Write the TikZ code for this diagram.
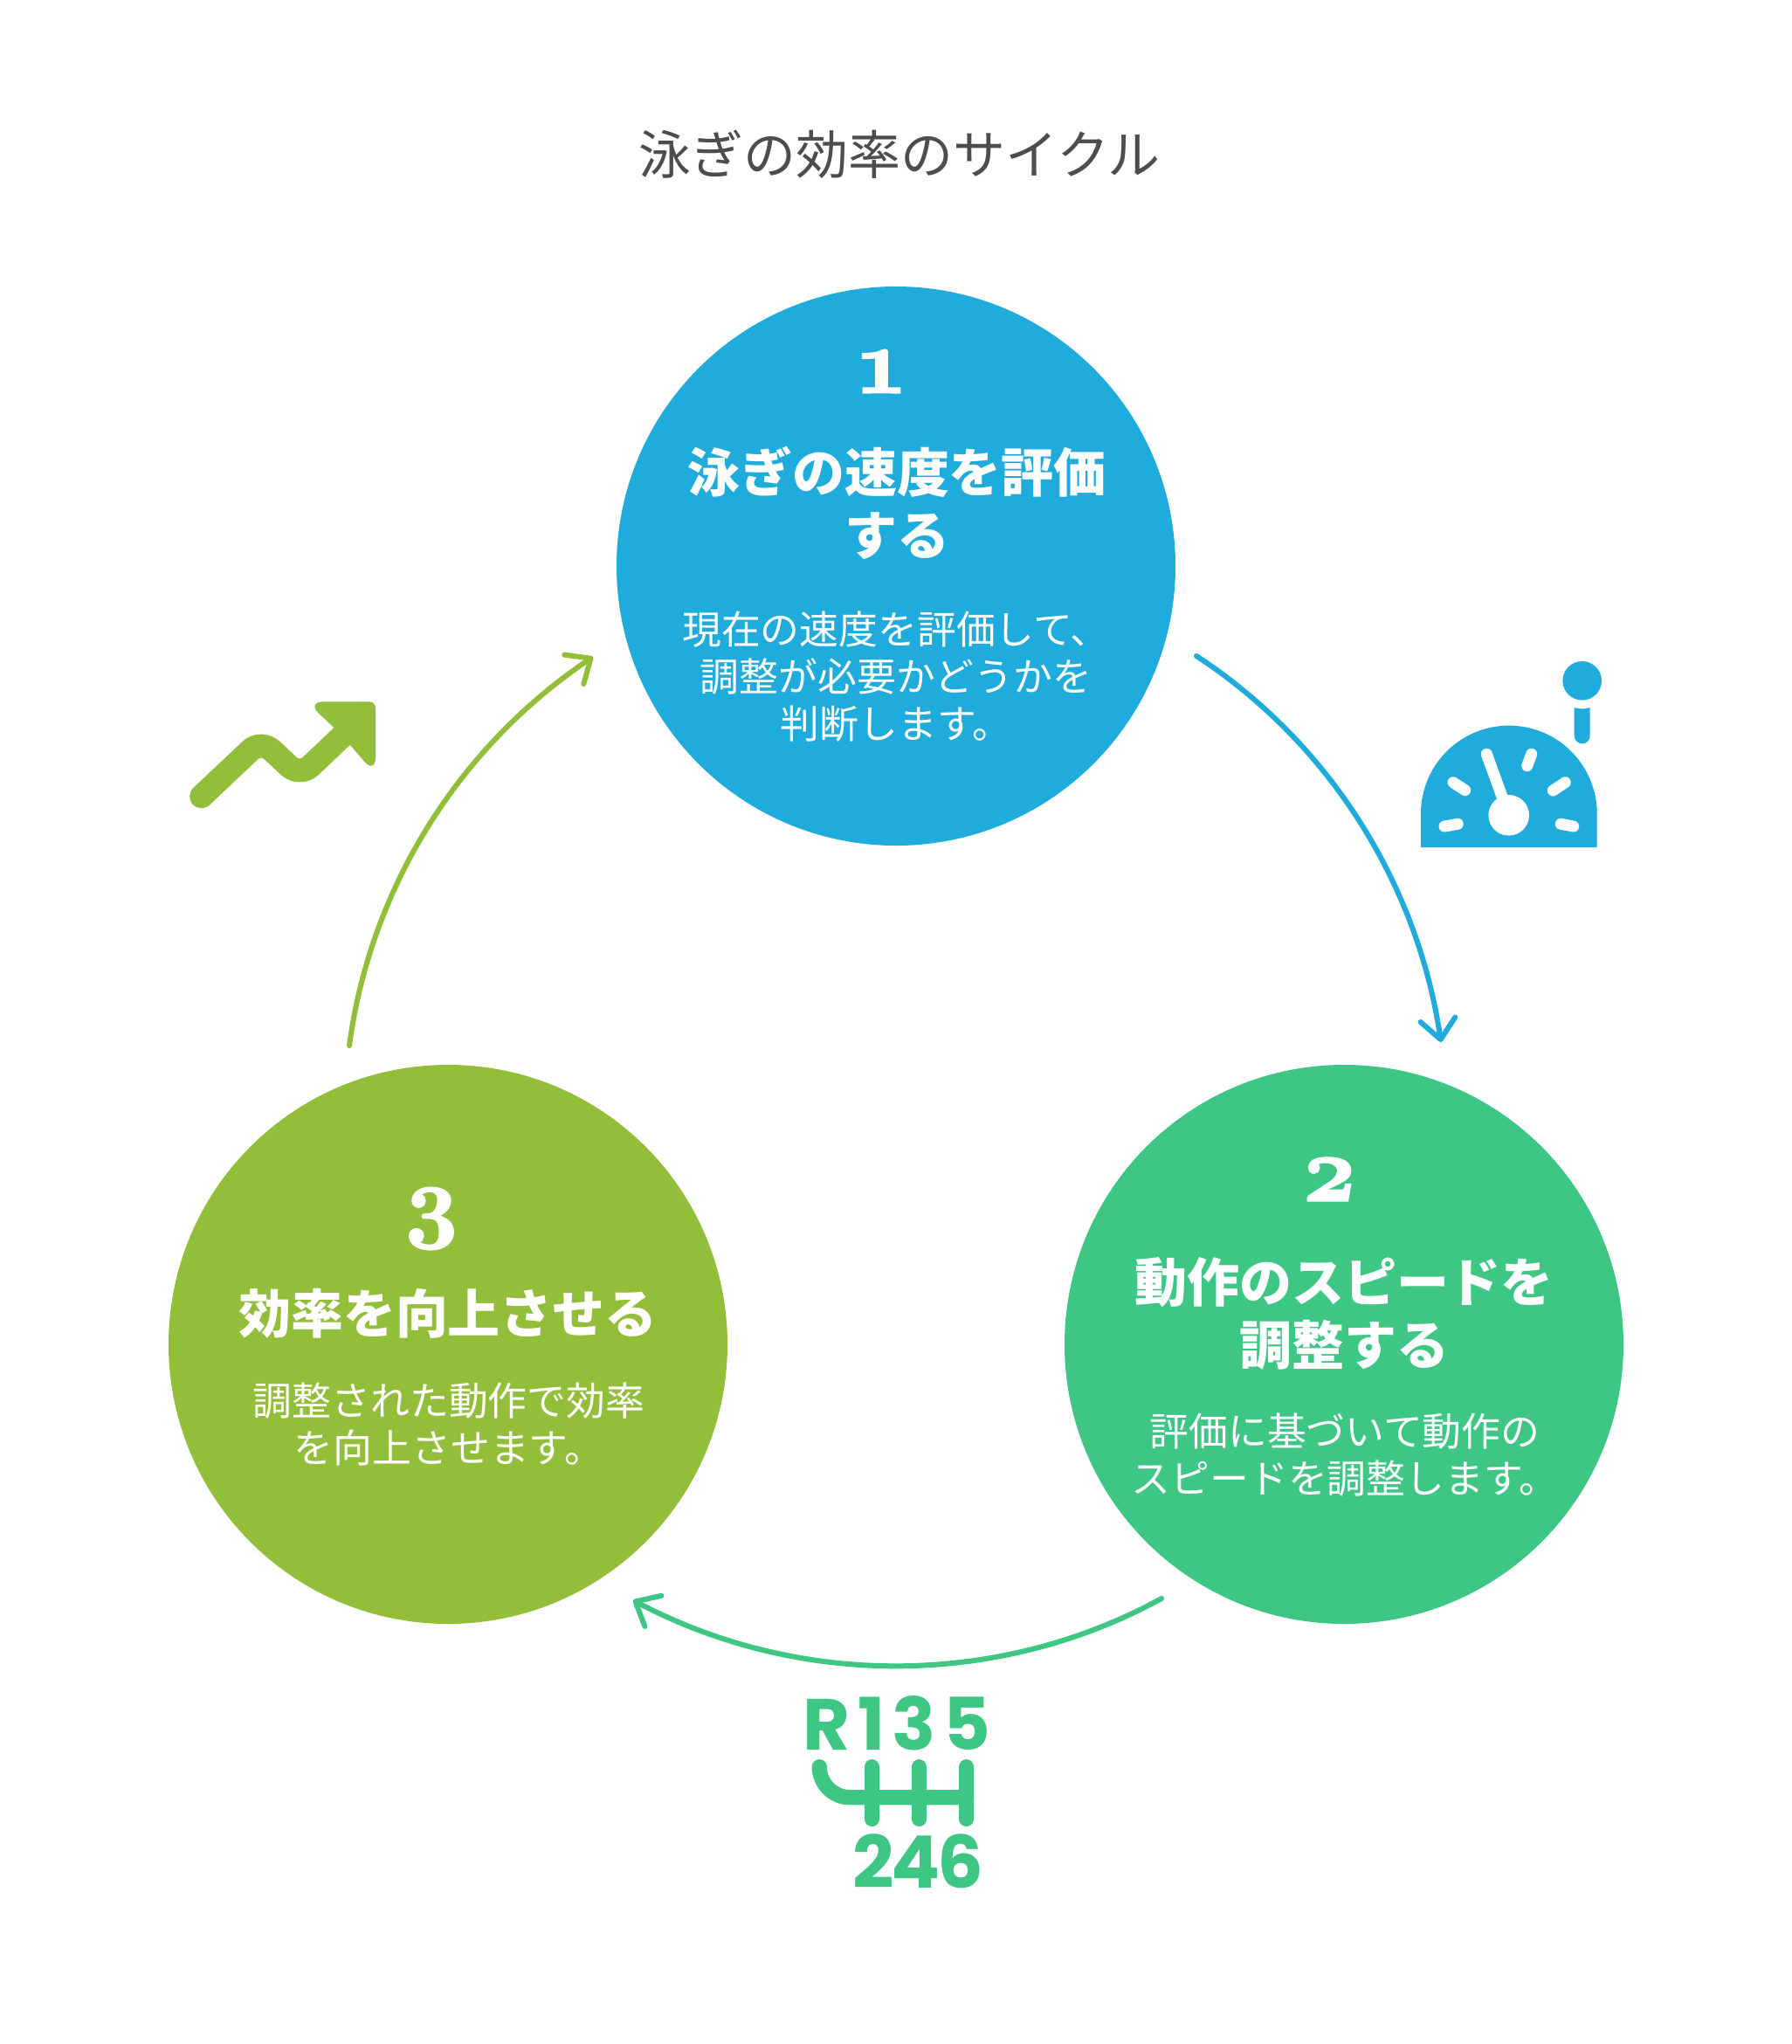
\documentclass[tikz,border=0pt]{standalone}
\usepackage{fontspec}
\usetikzlibrary{arrows.meta, bending}
\newfontfamily\jpfont{Noto Sans CJK JP}
\newfontfamily\numfont[Numbers=OldStyle,BoldFeatures={FakeBold=2.5}]{Latin Modern Roman}
\newfontfamily\gearfont{Poppins}
\definecolor{swimblue}{HTML}{1FABDB}
\definecolor{swimgreen}{HTML}{3EC684}
\definecolor{swimlime}{HTML}{93BE3A}
\definecolor{titlegray}{HTML}{4D4D4D}
\tikzset{
  stepcircle/.style={circle, minimum size=6.4cm, inner sep=0pt, outer sep=0pt},
  stepnum/.style={white, inner sep=0pt, font=\numfont\bfseries\fontsize{30}{30}\selectfont},
  stephead/.style={white, inner sep=0pt, align=center, font=\jpfont\bfseries\fontsize{17.07}{20.5}\selectfont},
  stepbody/.style={white, inner sep=0pt, align=center, font=\jpfont\fontsize{12.75}{15.36}\selectfont},
  link/.style={line width=0.06cm, line cap=round, line join=round,
    -{Straight Barb[length=0.23cm, width=0.40cm, round]}},
  tick/.style={white, line width=0.13cm, line cap=round},
  gearline/.style={swimgreen, line width=0.173cm, line cap=round},
  geartext/.style={swimgreen, inner sep=0pt, font=\gearfont\bfseries\fontsize{23.6}{23.6}\selectfont}
}

\begin{document}
\begin{tikzpicture}
    \useasboundingbox (0,0) rectangle (20.52,-23.40);
    % Title
    \node[titlegray, inner sep=0pt, font=\jpfont\fontsize{17.07}{20.5}\selectfont] (title) at (10.30,-1.77) {泳ぎの効率のサイクル};
    % Circles
    \node[stepcircle, fill=swimblue] (step1) at (10.26,-6.48) {};
    \node[stepcircle, fill=swimgreen] (step2) at (15.39,-15.39) {};
    \node[stepcircle, fill=swimlime] (step3) at (5.13,-15.39) {};
    % Step 1 text
    \node[stepnum] (num1) at (10.09,-4.25) {1};
    \node[stephead] (head1) at (10.27,-5.76) {泳ぎの速度を評価\\する};
    \node[stepbody] (body1) at (10.26,-7.75) {現在の速度を評価して、\\調整が必要かどうかを\\判断します。};
    % Step 2 text
    \node[stepnum] (num2) at (15.22,-13.50) {2};
    \node[stephead] (head2) at (15.39,-15.04) {動作のスピードを\\調整する};
    \node[stepbody] (body2) at (15.40,-16.66) {評価に基づいて動作の\\スピードを調整します。};
    % Step 3 text
    \node[stepnum] (num3) at (4.94,-13.95) {3};
    \node[stephead] (head3) at (5.13,-15.04) {効率を向上させる};
    \node[stepbody] (body3) at (5.14,-16.30) {調整された動作で効率\\を向上させます。};
    % Arc ends
    \coordinate (blueStart) at (13.70,-7.51);
    \coordinate (blueEnd) at (16.50,-11.93);
    \coordinate (greenStart) at (13.30,-18.30);
    \coordinate (greenEnd) at (7.25,-18.32);
    \coordinate (limeStart) at (4.00,-11.97);
    \coordinate (limeEnd) at (6.79,-7.52);
    % Arcing arrows
    \draw[link, swimblue] (blueStart) to[bend left=24.5, looseness=0.89] (blueEnd);
    \draw[link, swimgreen] (greenStart) to[bend left=28.5, looseness=0.90] (greenEnd);
    \draw[link, swimlime] (limeStart) to[bend left=24.5, looseness=0.89] (limeEnd);
    % Gauge icon
    \fill[swimblue] (16.27,-9.70) -- (16.27,-9.315) arc[start angle=180, end angle=0, radius=1.0085] -- (18.287,-9.70) -- cycle;
    \fill[white] (17.277,-9.333) circle (0.233);
    \draw[tick] (17.277,-9.333) -- (17.023,-8.633);
    \draw[tick] (16.64,-8.957) -- (16.777,-9.047);
    \draw[tick] (16.54,-9.46) -- (16.693,-9.433);
    \draw[tick] (17.487,-8.767) -- (17.537,-8.633);
    \draw[tick] (17.783,-9.05) -- (17.923,-8.957);
    \draw[tick] (17.873,-9.433) -- (18.017,-9.46);
    \fill[swimblue] (18.117,-7.793) circle (0.223);
    \fill[swimblue] (18.027,-8.10) .. controls (18.09,-8.12) and (18.144,-8.12) .. (18.207,-8.10) -- (18.207,-8.423) arc[start angle=0, end angle=-180, radius=0.09] -- cycle;
    % Gear shift icon
    \node[geartext, font=\gearfont\bfseries\fontsize{23.6}{23.6}\selectfont\addfontfeature{LetterSpace=10}] (gearTop) at (10.27,-19.73) {R135};
    \node[geartext, font=\gearfont\bfseries\fontsize{23.6}{23.6}\selectfont\addfontfeature{LetterSpace=-4}] (gearBottom) at (10.51,-21.31) {246};
    \draw[gearline] (9.383,-20.227) arc[start angle=180, end angle=270, radius=0.35] -- (11.067,-20.577);
    \draw[gearline] (9.983,-20.227) -- (9.983,-20.823);
    \draw[gearline] (10.523,-20.227) -- (10.523,-20.823);
    \draw[gearline] (11.067,-20.227) -- (11.067,-20.823);
    % Trend icon
    \draw[swimlime, line width=0.27cm, line cap=round, rounded corners=0.17cm] (2.307,-9.117) -- (2.99,-8.473) -- (3.433,-8.887) -- (4.00,-8.35);
    \fill[swimlime] (3.90,-8.40) [rounded corners=0.20cm] -- (3.507,-8.033) [rounded corners=0.07cm] -- (4.30,-8.033) [rounded corners=0.20cm] -- (4.30,-8.867) -- cycle;
\end{tikzpicture}
\end{document}
